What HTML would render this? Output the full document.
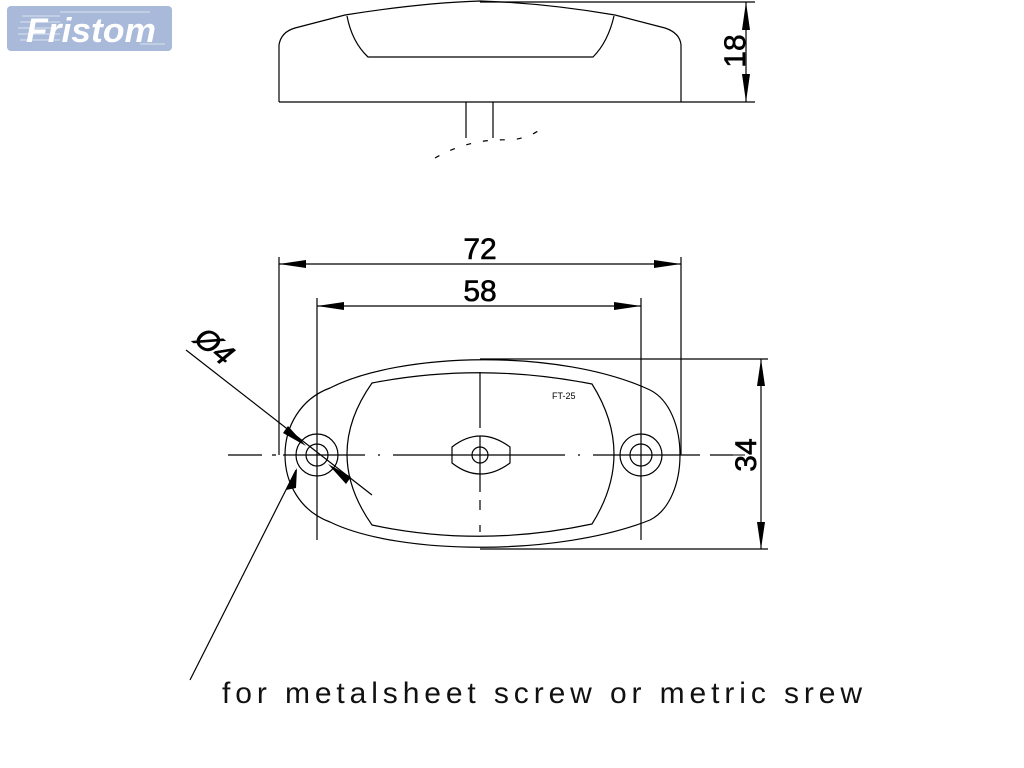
<!DOCTYPE html>
<html><head><meta charset="utf-8"><style>
html,body{margin:0;padding:0;background:#fff;width:1024px;height:768px;overflow:hidden}
svg{display:block}
</style></head><body>
<svg width="1024" height="768" viewBox="0 0 1024 768" xmlns="http://www.w3.org/2000/svg">
<!-- logo -->
<rect x="7" y="6" width="165" height="45" rx="4" fill="#a9b9d9"/>
<g stroke="#ffffff" stroke-width="1" opacity="0.6">
<line x1="22" y1="16" x2="60" y2="16"/><line x1="20" y1="22" x2="60" y2="22"/><line x1="18" y1="28" x2="60" y2="28"/><line x1="18" y1="34" x2="60" y2="34"/><line x1="20" y1="40" x2="60" y2="40"/>
<line x1="60" y1="12" x2="150" y2="12"/><line x1="140" y1="44" x2="165" y2="44"/>
</g>
<text x="26" y="42" font-family="Liberation Sans, sans-serif" font-size="34" font-weight="bold" font-style="italic" fill="#ffffff" textLength="130" lengthAdjust="spacingAndGlyphs">Fristom</text>

<g fill="none" stroke="#000" stroke-width="1.2">
<!-- top view -->
<path d="M279,102 L279,45 Q281,32 295,28 L345,15 Q420,3 480,1 Q545,3 615,15 L665,28 Q680,33 681,45 L681,102"/>
<line x1="279" y1="102" x2="755" y2="102"/>
<path d="M347,16 Q352,42 368,57 L593,57 Q608,42 614,16"/>
<line x1="480" y1="2" x2="755" y2="2"/>
<line x1="746" y1="2" x2="746" y2="102"/>
<line x1="466" y1="102" x2="466" y2="138"/>
<line x1="493" y1="102" x2="493" y2="138"/>
<path d="M435,158 Q470,138 510,140 Q530,138 542,128" stroke-dasharray="5,12"/>

<!-- bottom view outer -->
<path d="M330,388 C400,352 560,348 650,390 C690,410 690,500 650,520 C560,556 400,556 330,522 C270,500 270,410 330,388 Z"/>
<!-- inner -->
<path d="M372,383 Q480,362 592,384 Q636,454 592,524 Q480,548 372,525 Q322,454 372,383 Z"/>
<!-- center lens -->
<path d="M452,447 Q480,425 510,447 L510,463 Q480,485 452,463 Z"/>
<circle cx="480" cy="455" r="8"/>
<!-- holes -->
<circle cx="317" cy="455" r="11"/><circle cx="317" cy="455" r="21"/>
<circle cx="641" cy="455" r="11"/><circle cx="641" cy="455" r="21"/>
<!-- center lines -->
<path d="M228,455 H262 M272,455 H276 M283,455 H365 M378,455 H380 M393,455 H565 M578,455 H580 M593,455 H700 M710,455 H733"/>
<path d="M480,372 V428 M480,436 V492 M480,500 V510 M480,525 V532"/>
<line x1="317" y1="298" x2="317" y2="540"/>
<line x1="641" y1="298" x2="641" y2="540"/>
<line x1="279" y1="257" x2="279" y2="455"/>
<line x1="681" y1="257" x2="681" y2="455"/>
<!-- dimensions -->
<line x1="279" y1="264" x2="681" y2="264"/>
<line x1="317" y1="306" x2="641" y2="306"/>
<line x1="480" y1="359" x2="768" y2="359"/>
<line x1="480" y1="549" x2="768" y2="549"/>
<line x1="761" y1="359" x2="761" y2="549"/>
<!-- leaders -->
<line x1="186" y1="350" x2="372" y2="495"/>
<line x1="190" y1="680" x2="296" y2="470"/>
</g>

<g fill="#000">
<polygon points="746,2 742,30 750,30"/>
<polygon points="746,102 742,74 750,74"/>
<polygon points="279,264 306,260 306,268"/>
<polygon points="681,264 654,260 654,268"/>
<polygon points="317,306 344,302 344,310"/>
<polygon points="641,306 614,302 614,310"/>
<polygon points="761,359 757,386 765,386"/>
<polygon points="761,549 757,522 765,522"/>
<polygon points="306,446 283,433 288,426"/>
<polygon points="328,464 351,477 346,484"/>
<polygon points="297,468 286,490 296,488"/>
</g>

<g font-family="Liberation Sans, sans-serif" fill="#000" stroke="#000" stroke-width="0.6">
<text x="480" y="259" font-size="30" text-anchor="middle">72</text>
<text x="480" y="301" font-size="30" text-anchor="middle">58</text>
<text transform="translate(745,51) rotate(-90)" font-size="30" text-anchor="middle">18</text>
<text transform="translate(756,455) rotate(-90)" font-size="30" text-anchor="middle">34</text>
<text transform="translate(208,354) rotate(40)" font-size="30" text-anchor="middle" font-style="italic">Ø4</text>
</g>
<g font-family="Liberation Sans, sans-serif" fill="#000">
<text x="552" y="399" font-size="9">FT-25</text>
<text x="222" y="703" font-size="30" textLength="640" lengthAdjust="spacing" fill="#111">for metalsheet screw or metric srew</text>
</g>
<line x1="745" y1="455" x2="733" y2="455" stroke="#000"/>
</svg>
</body></html>
